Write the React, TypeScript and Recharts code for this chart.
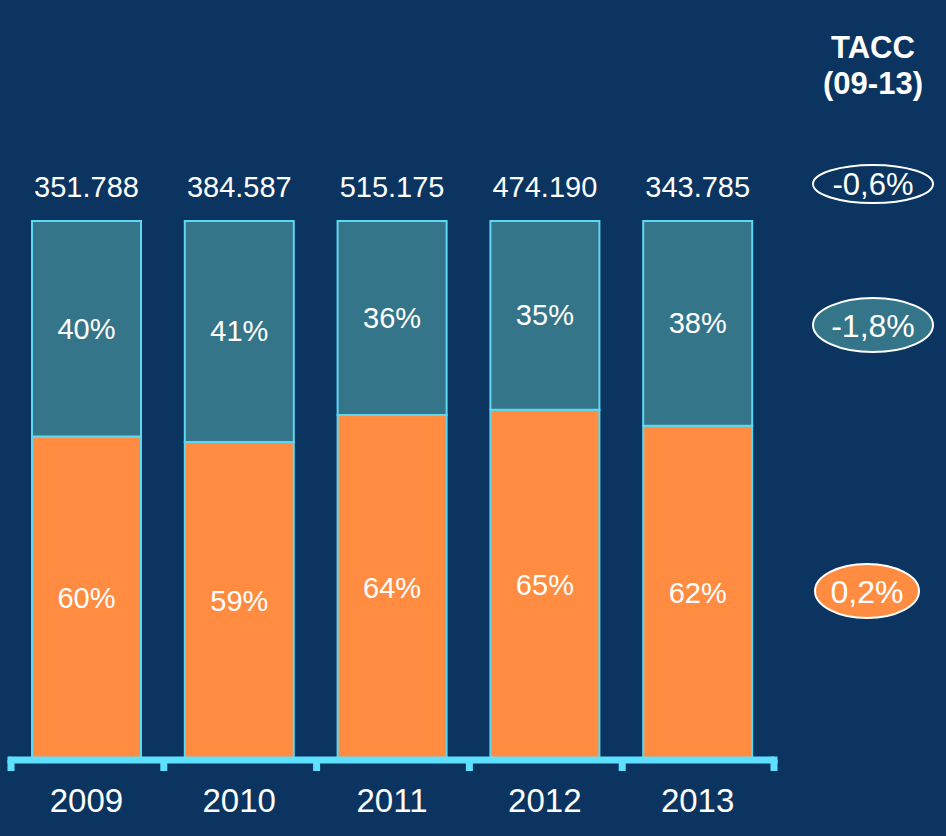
import React from "react";
import { BarChart, Bar, XAxis, YAxis, LabelList, Customized } from "recharts";

const years = ["2009", "2010", "2011", "2012", "2013"];
const shareBottom = [60, 59, 64, 65, 62];
const shareTop = [40, 41, 36, 35, 38];
const totals = ["351.788", "384.587", "515.175", "474.190", "343.785"];
const taccTitle = ["TACC", "(09-13)"];
const taccTotal = "-0,6%";
const taccTop = "-1,8%";
const taccBottom = "0,2%";

const data = years.map((y, i) => ({
  year: y,
  bottom: shareBottom[i],
  top: shareTop[i],
  total: totals[i],
}));

const BG = "#0B3560";
const TEAL = "#35758A";
const ORANGE = "#FF8C40";
const CYAN = "#5CD8F2";
const AXIS = "#5EE0FF";
const FONT = "'Liberation Sans', Arial, sans-serif";

const W = 946;
const H = 836;
const M = { top: 221, right: 172, bottom: 16, left: 10 };
const XH = 60;
const PLOT_W = W - M.left - M.right;
const PLOT_BOTTOM = H - M.bottom - XH;
const BAND = PLOT_W / years.length;

if (typeof document !== "undefined") {
  document.body.style.margin = "0";
  document.body.style.background = BG;
}

const YearTick = (props: any) => {
  const { x, index, payload } = props;
  const left = x - BAND / 2;
  const last = index === years.length - 1;
  return (
    <g>
      <rect x={left - 2.5} y={PLOT_BOTTOM} width={7} height={11} fill={AXIS} />
      {index === 0 && (
        <rect x={left - 2.5} y={PLOT_BOTTOM - 3.5} width={4} height={7} fill={AXIS} />
      )}
      {last && (
        <>
          <rect x={left + BAND - 2.5} y={PLOT_BOTTOM - 3.5} width={6} height={7} fill={AXIS} />
          <rect x={left + BAND - 3.5} y={PLOT_BOTTOM} width={7} height={11} fill={AXIS} />
        </>
      )}
      <text
        x={x}
        y={PLOT_BOTTOM + 52}
        textAnchor="middle"
        fill="#FFFFFF"
        fontSize={33}
        fontFamily={FONT}
      >
        {payload.value}
      </text>
    </g>
  );
};

const pctLabel = (props: any) => {
  const { x, y, width, height, value } = props;
  return (
    <text
      x={x + width / 2}
      y={y + height / 2 + 10}
      textAnchor="middle"
      fill="#FFFFFF"
      fontSize={29}
      fontFamily={FONT}
    >
      {value}%
    </text>
  );
};

const totalLabel = (props: any) => {
  const { x, y, width, value } = props;
  return (
    <text
      x={x + width / 2}
      y={y - 24}
      textAnchor="middle"
      fill="#FFFFFF"
      fontSize={29}
      fontFamily={FONT}
    >
      {value}
    </text>
  );
};

const Annotations = () => (
  <g fontFamily={FONT}>
    <text x={873} y={58} textAnchor="middle" fill="#FFFFFF" fontSize={31} fontWeight="bold">
      {taccTitle[0]}
    </text>
    <text x={873} y={94} textAnchor="middle" fill="#FFFFFF" fontSize={31} fontWeight="bold">
      {taccTitle[1]}
    </text>
    <ellipse cx={873} cy={184} rx={60} ry={19} fill="none" stroke="#FFFFFF" strokeWidth={2} />
    <text x={873} y={195} textAnchor="middle" fill="#FFFFFF" fontSize={31}>
      {taccTotal}
    </text>
    <ellipse cx={873} cy={325} rx={60} ry={27} fill={TEAL} stroke="#FFFFFF" strokeWidth={2} />
    <text x={873} y={337} textAnchor="middle" fill="#FFFFFF" fontSize={32}>
      {taccTop}
    </text>
    <ellipse cx={867} cy={591} rx={52} ry={27} fill={ORANGE} stroke="#FFFFFF" strokeWidth={2} />
    <text x={867} y={603} textAnchor="middle" fill="#FFFFFF" fontSize={32}>
      {taccBottom}
    </text>
  </g>
);

export default function App() {
  return (
    <div style={{ width: W, height: H, background: BG }}>
      <BarChart width={W} height={H} data={data} margin={M} barSize={109}>
        <YAxis hide domain={[0, 100]} type="number" />
        <XAxis
          dataKey="year"
          height={XH}
          axisLine={{ stroke: AXIS, strokeWidth: 7 }}
          tickLine={false}
          tick={<YearTick />}
          interval={0}
        />
        <Bar dataKey="bottom" stackId="a" fill={ORANGE} stroke={CYAN} strokeWidth={2} isAnimationActive={false}>
          <LabelList dataKey="bottom" content={pctLabel} />
        </Bar>
        <Bar dataKey="top" stackId="a" fill={TEAL} stroke={CYAN} strokeWidth={2} isAnimationActive={false}>
          <LabelList dataKey="top" content={pctLabel} />
          <LabelList dataKey="total" content={totalLabel} />
        </Bar>
        <Customized component={<Annotations />} />
      </BarChart>
    </div>
  );
}
